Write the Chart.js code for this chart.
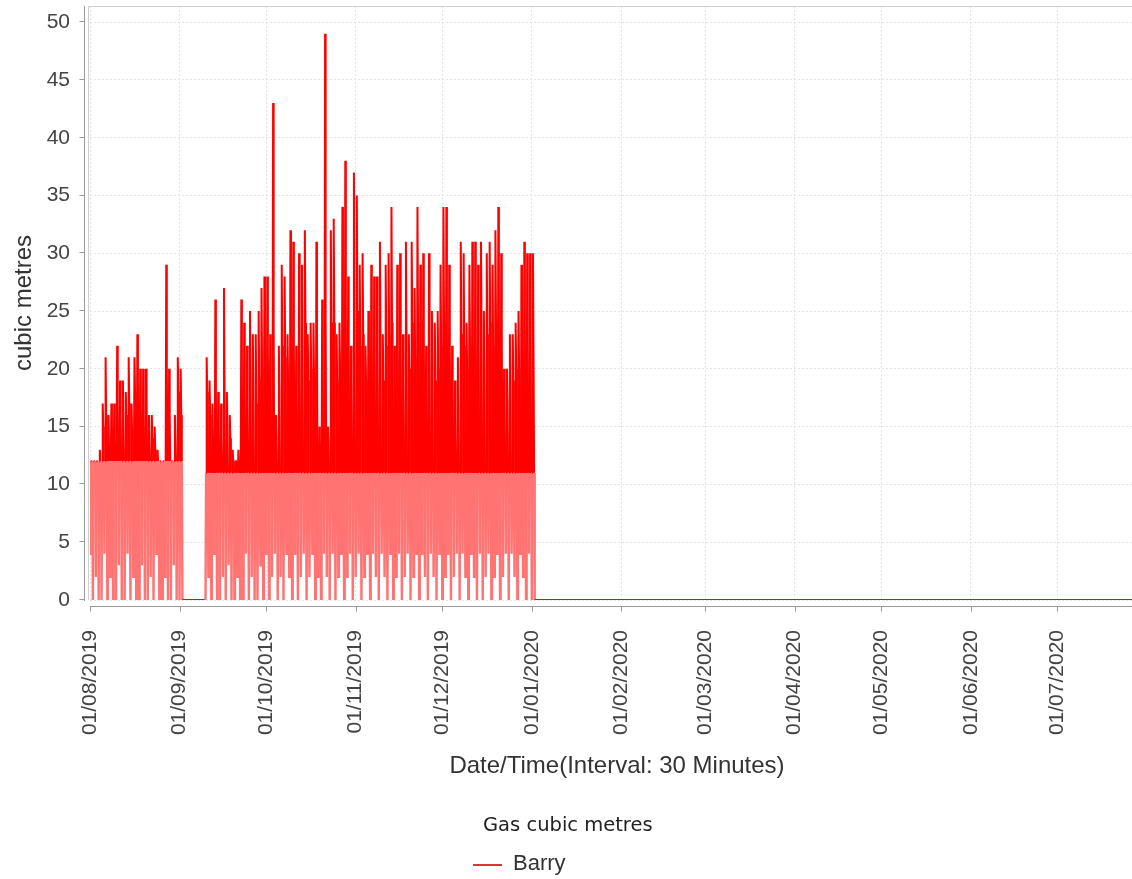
<!DOCTYPE html>
<html lang="en">
<head>
<meta charset="UTF-8" />
<title>Gas cubic metres</title>
<script src="https://cdn.jsdelivr.net/npm/chart.js"></script>
<style>
  html, body { margin: 0; padding: 0; background: #fff; overflow: hidden; }
  .chart-wrap { position: relative; width: 1160px; height: 879px; }
  .legend-title {
    position: absolute; left: 483px; top: 815px;
    font: 19.5px "DejaVu Sans"; line-height: 1; color: #222; white-space: nowrap;
  }
  .legend-swatch { position: absolute; left: 473px; top: 864px; width: 29px; height: 2px; background: rgb(220, 50, 60); }
  .legend-label {
    position: absolute; left: 513px; top: 852px;
    font: 22px "Liberation Sans"; line-height: 1; color: #333;
  }
</style>
</head>
<body>
<div class="chart-wrap">
  <canvas id="gasChart" width="1160" height="879"></canvas>
  <div class="legend-title">Gas cubic metres</div>
  <div class="legend-swatch"></div>
  <div class="legend-label">Barry</div>
</div>

<script>
// Daily summary of the half-hourly readings, 01/08/2019 .. 01/01/2020
// (Aug, Sep, Oct, Nov, Dec, then 1 Jan)
const dayPeak = [
  12,12,12,13,17,21,16,17,17,22,19,19,18,21,17,21,23,20,20,20,16,16,15,13,12,12,29,20,12,16,21,
  20,0,0,0,0,0,0,0,0,21,19,17,26,18,17,27,18,16,13,12,13,26,24,22,25,23,23,25,27,28,
  28,23,43,16,22,29,28,23,32,31,22,30,29,32,23,24,24,31,15,26,49,15,32,33,23,24,34,38,28,22,37,
  35,29,30,22,25,29,28,28,31,23,29,30,34,22,29,30,23,31,23,31,27,34,29,30,22,30,25,24,25,29,
  34,34,29,22,19,21,31,30,24,29,31,31,29,31,25,30,31,29,32,34,30,20,20,23,23,24,25,29,31,30,30,
  30
];
const dayMid = [
  12,12,12,12,15,16,13,15,14,17,16,15,16,17,14,18,19,17,16,17,14,14,13,12,12,12,20,16,12,14,18,
  16,0,0,0,0,0,0,0,0,18,16,14,18,15,14,18,15,14,12,12,12,19,18,17,20,18,17,19,20,21,
  22,18,24,14,18,22,21,19,23,22,18,22,21,24,19,20,19,23,14,20,25,14,24,24,19,20,24,25,22,19,25,
  25,22,23,19,20,22,21,22,23,19,22,23,24,19,22,23,19,23,20,24,21,24,22,23,19,22,20,19,20,22,
  24,24,22,19,16,17,23,22,20,22,23,24,22,23,20,23,24,22,24,25,23,17,17,19,19,20,20,22,24,23,22,
  21
];
const dayBase = [
  12,12,12,12,12,12,12,12,12,12,12,12,12,12,12,12,12,12,12,12,12,12,12,12,12,12,12,12,12,12,12,
  12,0,0,0,0,0,0,0,0,11,11,11,11,11,11,11,11,11,11,11,11,11,11,11,11,11,11,11,11,11,
  11,11,11,11,11,11,11,11,11,11,11,11,11,11,11,11,11,11,11,11,11,11,11,11,11,11,11,11,11,11,11,
  11,11,11,11,11,11,11,11,11,11,11,11,11,11,11,11,11,11,11,11,11,11,11,11,11,11,11,11,11,11,
  11,11,11,11,11,11,11,11,11,11,11,11,11,11,11,11,11,11,11,11,11,11,11,11,11,11,11,11,11,11,11,
  11
];
const dayLow = [
  4,0,2,0,0,4,0,2,0,0,3,0,0,4,0,2,0,0,3,0,0,2,0,4,0,0,2,0,0,3,0,
  0,0,0,0,0,0,0,0,0,0,2,0,4,0,0,2,0,3,0,0,2,0,0,4,0,2,0,0,3,0,
  4,0,2,4,0,2,0,4,2,0,4,0,2,4,0,2,4,0,2,0,4,2,0,4,0,2,4,0,2,4,0,
  2,4,0,2,4,0,4,2,0,4,2,0,4,0,2,4,0,2,4,0,2,4,0,4,2,0,4,2,0,4,
  0,2,4,0,2,4,0,4,2,0,4,2,0,4,0,2,4,0,2,4,0,2,4,0,4,2,0,4,2,0,4,
  0
];
// nothing used from 02/01/2020 to the end of the range
const idleDates = ["2020-01-02", "2020-07-31"];
const idleValues = [0, 0];

const tickLabels = [
  "01/08/2019", "01/09/2019", "01/10/2019", "01/11/2019", "01/12/2019", "01/01/2020",
  "01/02/2020", "01/03/2020", "01/04/2020", "01/05/2020", "01/06/2020", "01/07/2020"
];

const DAY = 86400000;
const start = Date.UTC(2019, 7, 1);
function isoOffset(s) {
  const [y, m, d] = s.split("-").map(Number);
  return (Date.UTC(y, m - 1, d) - start) / DAY;
}
function labelOffset(s) {
  const [d, m, y] = s.split("/").map(Number);
  return (Date.UTC(y, m - 1, d) - start) / DAY;
}

// five readings per day: overnight low, base load, peak, afternoon level, base load
const PER_DAY = 5;
const points = [];
dayPeak.forEach((peak, i) => {
  points.push({ x: i, y: dayLow[i] });
  points.push({ x: i + 0.2, y: dayBase[i] });
  points.push({ x: i + 0.4, y: peak });
  points.push({ x: i + 0.6, y: dayMid[i] });
  points.push({ x: i + 0.8, y: dayBase[i] });
});
idleDates.forEach((d, i) => points.push({ x: isoOffset(d), y: idleValues[i] }));

const lineRed = "#ff0000";
const lineLight = "rgb(255, 115, 115)";
// overnight drops: the segments into and out of the daily low
function isOvernight(ctx) {
  if (ctx.p0.parsed.y === 0 && ctx.p1.parsed.y === 0) return false;
  const slot = ctx.p0DataIndex % PER_DAY;
  return slot === 0 || slot === PER_DAY - 1;
}

const tickFont = { family: "Liberation Sans", size: 21 };
const titleFont = { family: "Liberation Sans", size: 24 };
const gridColor = "#e3e3e3";

// axis lines sit a few pixels away from the plot, with small outside tick marks
const axisFrame = {
  id: "axisFrame",
  afterDraw(chart) {
    const { ctx, chartArea: a, scales } = chart;
    ctx.save();
    ctx.lineWidth = 1;
    ctx.strokeStyle = "#cfcfcf";
    ctx.beginPath();
    ctx.moveTo(a.left - 1.5, a.bottom);
    ctx.lineTo(a.left - 1.5, a.top + 0.5);
    ctx.lineTo(a.right, a.top + 0.5);
    ctx.stroke();

    ctx.strokeStyle = "#9a9a9a";
    ctx.beginPath();
    const ax = a.left - 5.5;
    const ay = a.bottom + 6.5;
    ctx.moveTo(ax, a.top);
    ctx.lineTo(ax, a.bottom + 1);
    scales.y.ticks.forEach((t) => {
      const y = Math.round(scales.y.getPixelForValue(t.value)) - 0.5;
      ctx.moveTo(ax - 5, y);
      ctx.lineTo(ax, y);
    });
    ctx.moveTo(a.left, ay);
    ctx.lineTo(a.right, ay);
    scales.x.ticks.forEach((t) => {
      const x = Math.round(scales.x.getPixelForValue(t.value)) + 0.5;
      ctx.moveTo(x, ay);
      ctx.lineTo(x, ay + 5);
    });
    ctx.stroke();
    ctx.restore();
  }
};

new Chart(document.getElementById("gasChart"), {
  type: "line",
  data: {
    datasets: [{
      label: "Barry",
      data: points,
      borderColor: lineRed,
      borderWidth: 2,
      segment: {
        borderColor: (ctx) => (isOvernight(ctx) ? lineLight : lineRed),
        borderWidth: (ctx) => (isOvernight(ctx) ? 2.4 : 2)
      },
      fill: false,
      pointRadius: 0,
      tension: 0
    }]
  },
  options: {
    responsive: false,
    animation: false,
    devicePixelRatio: 1,
    layout: { padding: { top: 6, right: 16, bottom: 98, left: 10 } },
    plugins: { legend: { display: false }, tooltip: { enabled: false } },
    scales: {
      x: {
        type: "linear",
        min: 0,
        max: isoOffset(idleDates[1]),
        afterBuildTicks: (scale) => {
          scale.ticks = tickLabels.map((l) => ({ value: labelOffset(l) }));
        },
        afterFit: (scale) => { scale.height = 181; },
        ticks: {
          autoSkip: false,
          minRotation: 90,
          maxRotation: 90,
          padding: 0,
          color: "#444",
          font: tickFont,
          callback: (v, i) => tickLabels[i]
        },
        grid: { color: gridColor, drawTicks: true, tickLength: 30, tickColor: "rgba(0,0,0,0)" },
        border: { display: false, dash: [2, 2] },
        title: {
          display: true,
          text: "Date/Time(Interval: 30 Minutes)",
          color: "#333",
          font: titleFont,
          padding: { top: 16, bottom: 0 }
        }
      },
      y: {
        min: 0,
        max: 51.4,
        afterFit: (scale) => { scale.width = 80; },
        ticks: {
          stepSize: 5,
          includeBounds: false,
          padding: 0,
          color: "#444",
          font: { family: "Liberation Sans", size: 21, lineHeight: 0.55 }
        },
        grid: { color: gridColor, drawTicks: true, tickLength: 20, tickColor: "rgba(0,0,0,0)" },
        border: { display: false, dash: [2, 2] },
        title: {
          display: true,
          text: "cubic metres",
          color: "#333",
          font: titleFont,
          padding: { top: 0, bottom: 7 }
        }
      }
    }
  },
  plugins: [axisFrame]
});
</script>
</body>
</html>
